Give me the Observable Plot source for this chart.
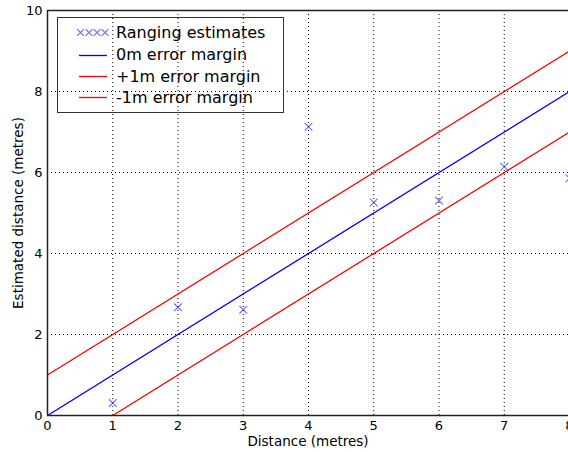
<!DOCTYPE html>
<html>
<head>
<meta charset="utf-8">
<script src="https://cdn.jsdelivr.net/npm/d3@7"></script>
<script src="https://cdn.jsdelivr.net/npm/@observablehq/plot@0.6"></script>
<style>
  html, body { margin: 0; padding: 0; background: #fff; }
  #wrap { position: relative; width: 568px; height: 452px; overflow: hidden; font-family: "DejaVu Sans", sans-serif; }
  #legend { position: absolute; left: 57px; top: 17px; width: 227px; height: 96px; border: 1px solid #333; background: transparent; box-sizing: border-box; }
  #legend .row { position: absolute; left: 0; height: 20px; display: flex; align-items: center; font-size: 16px; color: #000; white-space: nowrap; }
  #legend svg { display: block; }
</style>
</head>
<body>
<div id="wrap"></div>
<script>
// ---- data ----
const distances = [1, 2, 3, 4, 5, 6, 7, 8];
const estimates = [0.31, 2.67, 2.61, 7.13, 5.26, 5.31, 6.14, 5.86];
const marginNames = ["0m error margin", "+1m error margin", "-1m error margin"];
const marginOffsets = [0, 1, -1];
const marginColors = ["#0000ff", "#ff0000", "#ff0000"];
const xTicks = [0, 1, 2, 3, 4, 5, 6, 7, 8];
const yTicks = [0, 2, 4, 6, 8, 10];
const xLabel = "Distance (metres)";
const yLabel = "Estimated distance (metres)";
const pointName = "Ranging estimates";

// build line tables
const lineData = [];
marginOffsets.forEach((off, i) => {
  const x0 = Math.max(0, -off);
  [x0, 8].forEach(x => lineData.push({series: marginNames[i], x, y: x + off, color: marginColors[i]}));
});
const points = distances.map((d, i) => ({x: d, y: estimates[i]}));

const chart = Plot.plot({
  width: 568,
  height: 452,
  marginLeft: 47,
  marginTop: 10,
  marginBottom: 37,
  marginRight: 0,
  style: {fontFamily: "DejaVu Sans, sans-serif", fontSize: "13px", color: "#000", background: "#fff"},
  x: {domain: [0, 8], range: [47, 569]},
  y: {domain: [0, 10]},
  marks: [
    Plot.gridX(xTicks, {stroke: "#000", strokeOpacity: 1, strokeDasharray: "1,3", strokeWidth: 1}),
    Plot.gridY(yTicks, {stroke: "#000", strokeOpacity: 1, strokeDasharray: "1,3", strokeWidth: 1}),
    Plot.line(lineData, {x: "x", y: "y", z: "series", stroke: "color", strokeWidth: 1.3, clip: true}),
    Plot.dot(points, {x: "x", y: "y", symbol: "times", r: 3.6, stroke: "#0000ff", strokeOpacity: 0.6, strokeWidth: 1.1, clip: true}),
    Plot.ruleX([0], {stroke: "#222", strokeWidth: 1.5}),
    Plot.ruleY([0, 10], {stroke: "#222", strokeWidth: 1.5}),
    Plot.axisX(xTicks, {tickSize: 0, tickPadding: 5, label: null, fontSize: 13}),
    Plot.axisX([], {label: xLabel, labelAnchor: "center", labelArrow: "none", labelOffset: 30, fontSize: 13.5}),
    Plot.axisY(yTicks, {tickSize: 0, tickPadding: 5, label: null, fontSize: 13}),
    Plot.axisY([], {label: yLabel, labelAnchor: "center", labelArrow: "none", labelOffset: 34, fontSize: 13.5})
  ]
});
document.getElementById("wrap").appendChild(chart);

// legend
const legend = document.createElement("div");
legend.id = "legend";
const rows = [
  {name: pointName, kind: "points", color: "#0000ff"},
  ...marginNames.map((n, i) => ({name: n, kind: "line", color: marginColors[i]}))
];
const rowCenters = [14, 36.5, 58, 79];
rows.forEach((r, i) => {
  const row = document.createElement("div");
  row.className = "row";
  row.style.top = (rowCenters[i] - 10) + "px";
  const ns = "http://www.w3.org/2000/svg";
  const svg = document.createElementNS(ns, "svg");
  svg.setAttribute("width", 58);
  svg.setAttribute("height", 20);
  if (r.kind === "line") {
    const l = document.createElementNS(ns, "line");
    l.setAttribute("x1", 21); l.setAttribute("x2", 49);
    l.setAttribute("y1", 10.5); l.setAttribute("y2", 10.5);
    l.setAttribute("stroke", r.color); l.setAttribute("stroke-width", 1.3);
    svg.appendChild(l);
  } else {
    [22.5, 31, 39, 47].forEach(cx => {
      const p = document.createElementNS(ns, "path");
      p.setAttribute("d", `M${cx-3.4},${10.5-3.4}L${cx+3.4},${10.5+3.4}M${cx-3.4},${10.5+3.4}L${cx+3.4},${10.5-3.4}`);
      p.setAttribute("stroke", r.color); p.setAttribute("stroke-opacity", 0.6); p.setAttribute("stroke-width", 1.1);
      svg.appendChild(p);
    });
  }
  row.appendChild(svg);
  const t = document.createElement("span");
  t.textContent = r.name;
  row.appendChild(t);
  legend.appendChild(row);
});
document.getElementById("wrap").appendChild(legend);
</script>
</body>
</html>
